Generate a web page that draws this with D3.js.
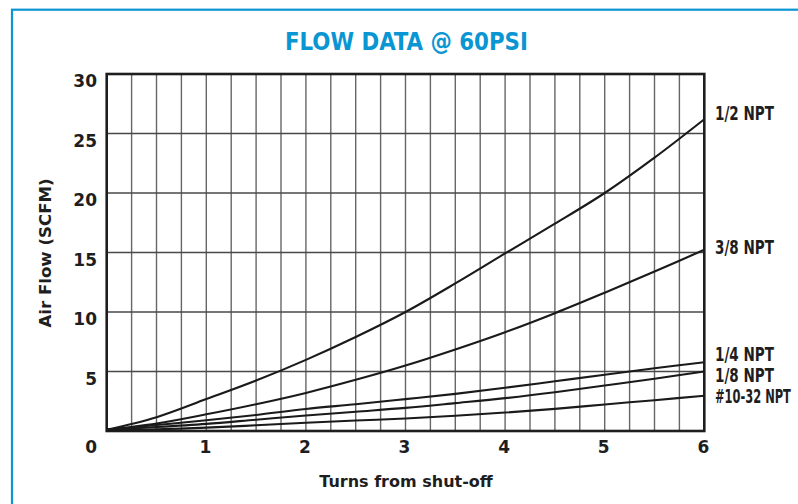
<!DOCTYPE html>
<html><head><meta charset="utf-8">
<script src="https://cdn.jsdelivr.net/npm/d3@7"></script>
<style>html,body{margin:0;padding:0;background:#fff;overflow:hidden}</style>
</head><body><svg id="c" width="798" height="504"></svg>
<script>
// ---- data ----
const turns = [0, 0.5, 1, 1.5, 2, 2.5, 3, 3.5, 4, 4.5, 5, 5.5, 6];
const seriesNames = ["1/2 NPT", "3/8 NPT", "1/4 NPT", "1/8 NPT", "#10-32 NPT"];
const halfNPT        = [0.1, 1.16, 2.68, 4.24, 5.98, 7.9, 10.0, 12.4, 14.92, 17.42, 20.0, 22.97, 26.2];
const threeEighthNPT = [0.1, 0.63, 1.4, 2.25, 3.2, 4.3, 5.5, 6.85, 8.3, 9.9, 11.62, 13.4, 15.23];
const quarterNPT     = [0.1, 0.5, 0.9, 1.35, 1.85, 2.25, 2.68, 3.12, 3.63, 4.18, 4.73, 5.27, 5.78];
const eighthNPT      = [0.1, 0.33, 0.6, 0.95, 1.3, 1.62, 1.94, 2.34, 2.76, 3.26, 3.82, 4.39, 5.0];
const tenThirtyTwo   = [0.1, 0.15, 0.28, 0.48, 0.69, 0.88, 1.05, 1.28, 1.55, 1.86, 2.23, 2.59, 2.96];
const yTicks = [5, 10, 15, 20, 25, 30];
const xTicks = [1, 2, 3, 4, 5, 6];
const title = "FLOW DATA @ 60PSI";
const xTitle = "Turns from shut-off";
const yTitle = "Air Flow (SCFM)";

(function () {
// ---- layout ----
const svg = d3.select("#c");
const pLeft = 106.7, pRight = 704.3, pTop = 74, pBottom = 431;
const x = d3.scaleLinear().domain([0, 6]).range([pLeft, pRight]);
const y = d3.scaleLinear().domain([0, 30]).range([pBottom, pTop]);
const blue = "#0a95d3";
const tickFont = "'DejaVu Sans', sans-serif";
const narrowFont = "'Liberation Sans Narrow', 'DejaVu Sans Condensed', 'Liberation Sans', sans-serif";

// horizontally squeeze a text element (anchored at its start) to a target width
function fitWidth(sel, tx, ty, target) {
  const w = sel.node().getComputedTextLength() || target;
  const sx = Math.min(1, target / w);
  sel.attr("transform", `translate(${tx},${ty}) scale(${sx},1)`);
}

// outer frame
svg.append("rect").attr("x", 12).attr("y", 9.7).attr("width", 820).attr("height", 600)
  .attr("fill", "none").attr("stroke", blue).attr("stroke-width", 2.2);

// title
const t = svg.append("text").attr("text-anchor", "start")
  .attr("font-family", narrowFont).attr("font-weight", "bold").attr("font-size", 25)
  .attr("fill", blue).text(title);
fitWidth(t, 285, 50, 243);

// vertical grid (quarter turns)
const quarterTicks = d3.range(1, 24).map(i => i / 4);
svg.append("g").selectAll("line").data(quarterTicks).join("line")
  .attr("x1", d => x(d)).attr("x2", d => x(d)).attr("y1", pTop).attr("y2", pBottom)
  .attr("stroke", "#666").attr("stroke-width", 1.4);

// horizontal grid
svg.append("g").selectAll("line").data(yTicks.slice(0, -1)).join("line")
  .attr("x1", pLeft).attr("x2", pRight).attr("y1", d => y(d)).attr("y2", d => y(d))
  .attr("stroke", "#484848").attr("stroke-width", 1.3);

// frame
svg.append("rect").attr("x", pLeft).attr("y", pTop).attr("width", pRight - pLeft).attr("height", pBottom - pTop)
  .attr("fill", "none").attr("stroke", "#1e1e1e").attr("stroke-width", 2.6);

// curves
const allSeries = [halfNPT, threeEighthNPT, quarterNPT, eighthNPT, tenThirtyTwo];
const line = d3.line().x((d, i) => x(turns[i])).y(d => y(d)).curve(d3.curveCatmullRom.alpha(0.5));
svg.append("g").selectAll("path").data(allSeries).join("path")
  .attr("d", d => line(d)).attr("fill", "none").attr("stroke", "#1a1a1a").attr("stroke-width", 2.1);

// series labels
const labelDy = [-6, -3, -8, 4, 0];
const labelWidth = [59, 59, 59, 59, 76];
svg.append("g").selectAll("text").data(seriesNames).join("text")
  .attr("dy", "0.36em")
  .attr("font-family", narrowFont).attr("font-weight", "bold").attr("font-size", 19)
  .attr("fill", "#1e1e1e")
  .text(d => d)
  .each(function (d, i) {
    fitWidth(d3.select(this), 715, y(allSeries[i][allSeries[i].length - 1]) + labelDy[i], labelWidth[i]);
  });

// y tick labels
svg.append("g").selectAll("text").data(yTicks).join("text")
  .attr("x", 97).attr("y", d => y(d) + 7).attr("dy", "0.36em").attr("text-anchor", "end")
  .attr("font-family", tickFont).attr("font-weight", "bold").attr("font-size", 17).attr("fill", "#1e1e1e")
  .text(d => d);
// shared zero label
svg.append("text").attr("x", 97).attr("y", 447).attr("dy", "0.36em").attr("text-anchor", "end")
  .attr("font-family", tickFont).attr("font-weight", "bold").attr("font-size", 17).attr("fill", "#1e1e1e")
  .text(0);
// x tick labels
svg.append("g").selectAll("text").data(xTicks).join("text")
  .attr("x", d => x(d) - 1).attr("y", 447).attr("dy", "0.36em").attr("text-anchor", "middle")
  .attr("font-family", tickFont).attr("font-weight", "bold").attr("font-size", 17).attr("fill", "#1e1e1e")
  .text(d => d);

// axis titles
svg.append("text").attr("x", 406).attr("y", 481).attr("dy", "0.36em").attr("text-anchor", "middle")
  .attr("font-family", tickFont).attr("font-weight", "bold").attr("font-size", 16).attr("fill", "#1e1e1e")
  .text(xTitle);
svg.append("text").attr("transform", "translate(45,253) rotate(-90)").attr("dy", "0.36em")
  .attr("text-anchor", "middle")
  .attr("font-family", tickFont).attr("font-weight", "bold").attr("font-size", 16.6).attr("fill", "#1e1e1e")
  .text(yTitle);
})();
</script></body></html>
